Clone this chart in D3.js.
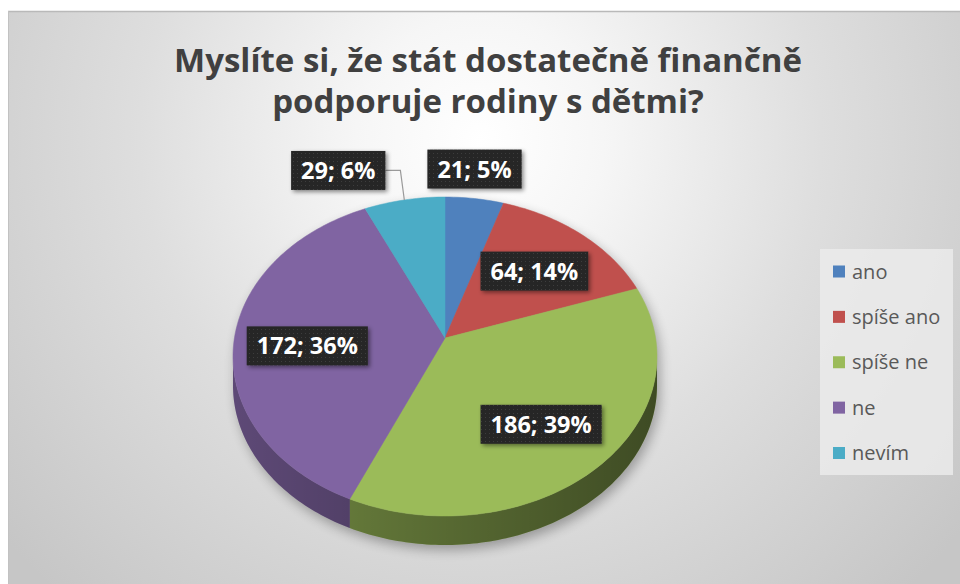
<!DOCTYPE html>
<html>
<head>
<meta charset="utf-8">
<script src="https://cdn.jsdelivr.net/npm/d3@7"></script>
<style>
    body { margin: 0; background: #fff; }
    svg { display: block; }
</style>
</head>
<body>
<div id="chart"></div>
<script>
const categories = ["ano", "spíše ano", "spíše ne", "ne", "nevím"];
const counts = [21, 64, 186, 172, 29];
const percentLabels = ["5%", "14%", "39%", "36%", "6%"];
const colors = ["#4f81bd", "#c0504d", "#9bbb59", "#8064a2", "#4bacc6"];
const titleLines = ["Myslíte si, že stát dostatečně finančně", "podporuje rodiny s dětmi?"];

const W = 960, H = 584;
const FONT = "'Open Sans', 'Noto Sans', sans-serif";

// pie geometry (tilted ellipse + depth)
const cx = 445, cy = 356.5, rx = 212, ry = 159.5, depth = 29;
const apex = [445, 338];

const svg = d3.select("#chart").append("svg")
    .attr("width", W).attr("height", H);

const defs = svg.append("defs");

// background
const bg = defs.append("radialGradient").attr("id", "bg")
    .attr("gradientUnits", "userSpaceOnUse")
    .attr("cx", 480).attr("cy", 140).attr("r", 620);
bg.append("stop").attr("offset", 0).attr("stop-color", "#ffffff");
bg.append("stop").attr("offset", 0.2).attr("stop-color", "#f6f6f6");
bg.append("stop").attr("offset", 0.55).attr("stop-color", "#dedede");
bg.append("stop").attr("offset", 1).attr("stop-color", "#c6c6c6");

// darkening across the pie side
const sideShade = defs.append("linearGradient").attr("id", "sideShade")
    .attr("gradientUnits", "userSpaceOnUse")
    .attr("x1", cx - rx).attr("x2", cx + rx).attr("y1", 0).attr("y2", 0);
sideShade.append("stop").attr("offset", 0).attr("stop-color", "#000").attr("stop-opacity", 0.27);
sideShade.append("stop").attr("offset", 1).attr("stop-color", "#000").attr("stop-opacity", 0.6);

// label texture
const dots = defs.append("pattern").attr("id", "dots")
    .attr("width", 4).attr("height", 4).attr("patternUnits", "userSpaceOnUse");
dots.append("rect").attr("width", 4).attr("height", 4).attr("fill", "#272727");
dots.append("rect").attr("x", 1).attr("y", 1).attr("width", 1).attr("height", 1).attr("fill", "#3d3d3d");

const lblShadow = defs.append("filter").attr("id", "lblShadow")
    .attr("x", "-20%").attr("y", "-30%").attr("width", "150%").attr("height", "180%");
lblShadow.append("feDropShadow").attr("dx", 2).attr("dy", 2)
    .attr("stdDeviation", 2).attr("flood-color", "#000").attr("flood-opacity", 0.45);

const pieBlur = defs.append("filter").attr("id", "pieBlur")
    .attr("x", "-20%").attr("y", "-20%").attr("width", "140%").attr("height", "140%");
pieBlur.append("feGaussianBlur").attr("stdDeviation", 6);

svg.append("rect").attr("x", 8).attr("y", 11)
    .attr("width", W - 8).attr("height", H - 11)
    .attr("fill", "url(#bg)");
svg.append("line").attr("x1", 8).attr("x2", W).attr("y1", 11.5).attr("y2", 11.5)
    .attr("stroke", "#b9b9b9").attr("stroke-width", 1.5);
svg.append("line").attr("x1", 8.5).attr("x2", 8.5).attr("y1", 11).attr("y2", H)
    .attr("stroke", "#c2c2c2").attr("stroke-width", 1);

// title
svg.append("g").selectAll("text").data(titleLines).join("text")
    .attr("x", 488)
    .attr("y", (d, i) => 72 + i * 41)
    .attr("text-anchor", "middle")
    .attr("font-family", FONT)
    .attr("font-weight", 700)
    .attr("font-size", 33)
    .attr("fill", "#404040")
    .text(d => d);

// pie
const color = d3.scaleOrdinal().domain(categories).range(colors);
const pie = d3.pie().sort(null).value(d => d.count);
const rows = categories.map((c, i) => ({ cat: c, count: counts[i], pct: percentLabels[i] }));
const arcs = pie(rows);
const total = d3.sum(counts);

function rim(a, dy = 0) {
    return [cx + rx * Math.sin(a), cy - ry * Math.cos(a) + dy];
}
function arcPoints(a0, a1, dy) {
    const n = Math.max(2, Math.ceil(Math.abs(a1 - a0) / 0.02));
    return d3.range(n + 1).map(i => rim(a0 + (a1 - a0) * i / n, dy));
}
const line = d3.line();

const pieG = svg.append("g");

// soft shadow
const outline = arcPoints(-Math.PI / 2, Math.PI / 2, 0)
    .concat(arcPoints(Math.PI / 2, 3 * Math.PI / 2, depth));
pieG.append("path")
    .attr("d", line(outline) + "Z")
    .attr("transform", "translate(3,5)")
    .attr("fill", "#000").attr("opacity", 0.3)
    .attr("filter", "url(#pieBlur)");

// sides (front half only)
const sides = arcs.map(a => {
    const s0 = Math.max(a.startAngle, Math.PI / 2);
    const s1 = Math.min(a.endAngle, 3 * Math.PI / 2);
    return s0 < s1 ? { a, s0, s1 } : null;
}).filter(d => d);

const sideG = pieG.append("g");
sideG.selectAll("path.side").data(sides).join("path")
    .attr("class", "side")
    .attr("d", d => line(arcPoints(d.s0, d.s1, 0).concat(arcPoints(d.s1, d.s0, depth))) + "Z")
    .attr("fill", d => color(d.a.data.cat));
sideG.selectAll("path.shade").data(sides).join("path")
    .attr("class", "shade")
    .attr("d", d => line(arcPoints(d.s0, d.s1, 0).concat(arcPoints(d.s1, d.s0, depth))) + "Z")
    .attr("fill", "url(#sideShade)");

// top faces
pieG.append("g").selectAll("path").data(arcs).join("path")
    .attr("d", d => line([apex].concat(arcPoints(d.startAngle, d.endAngle, 0))) + "Z")
    .attr("fill", d => color(d.data.cat))
    .attr("stroke", d => color(d.data.cat))
    .attr("stroke-width", 0.5);

// data labels
const labelG = svg.append("g");
const labels = arcs.map(d => {
    const mid = (d.startAngle + d.endAngle) / 2;
    const p = rim(mid);
    const outside = d.value / total < 0.07;
    return { d, mid, rimPt: p, outside, text: d.data.count + "; " + d.data.pct };
});

labels.forEach(l => {
    const t = labelG.append("text")
        .attr("font-family", FONT)
        .attr("font-weight", 700)
        .attr("font-size", 23.5)
        .attr("fill", "#fff")
        .attr("text-anchor", "middle")
        .text(l.text);
    l.node = t;
    l.w = t.node().getComputedTextLength() + 20;
    l.h = 39;
    if (l.outside) {
        l.x = l.rimPt[0];
        l.y = l.rimPt[1] - 10 - l.h / 2;
    } else {
        l.x = apex[0] + 0.65 * (l.rimPt[0] - apex[0]);
        l.y = apex[1] + 0.65 * (l.rimPt[1] - apex[1]);
    }
});

// push overlapping outside labels apart (move the left one leftwards)
const outs = labels.filter(l => l.outside).sort((a, b) => b.x - a.x);
for (let i = 1; i < outs.length; i++) {
    const right = outs[i - 1], left = outs[i];
    const limit = right.x - right.w / 2 - 42;
    if (left.x + left.w / 2 > limit) {
        left.x = limit - left.w / 2;
        left.moved = true;
    }
}

labels.filter(l => l.moved).forEach(l => {
    const bx = l.x + l.w / 2;
    labelG.insert("polyline", "text")
        .attr("points", [[bx, l.y], [bx + 15, l.y], l.rimPt].map(p => p.join(",")).join(" "))
        .attr("fill", "none")
        .attr("stroke", "#9a9a9a")
        .attr("stroke-width", 1.2);
});

labels.forEach(l => {
    labelG.insert("rect", "text")
        .attr("x", l.x - l.w / 2).attr("y", l.y - l.h / 2)
        .attr("width", l.w).attr("height", l.h)
        .attr("fill", "url(#dots)")
        .attr("filter", "url(#lblShadow)");
    l.node.attr("x", l.x).attr("y", l.y + 8.5);
});
labelG.selectAll("text").raise();

// legend
const legend = svg.append("g");
legend.append("rect")
    .attr("x", 820).attr("y", 249).attr("width", 133).attr("height", 226)
    .attr("fill", "#ebebeb").attr("opacity", 0.85);
const yLeg = d3.scalePoint().domain(categories).range([271.5, 453]);
const item = legend.selectAll("g.item").data(categories).join("g")
    .attr("class", "item")
    .attr("transform", d => `translate(833,${yLeg(d)})`);
item.append("rect")
    .attr("x", 0).attr("y", -6).attr("width", 12).attr("height", 12)
    .attr("fill", d => color(d));
item.append("text")
    .attr("x", 19).attr("y", 7)
    .attr("font-family", FONT)
    .attr("font-size", 20)
    .attr("fill", "#595959")
    .text(d => d);
</script>
</body>
</html>
